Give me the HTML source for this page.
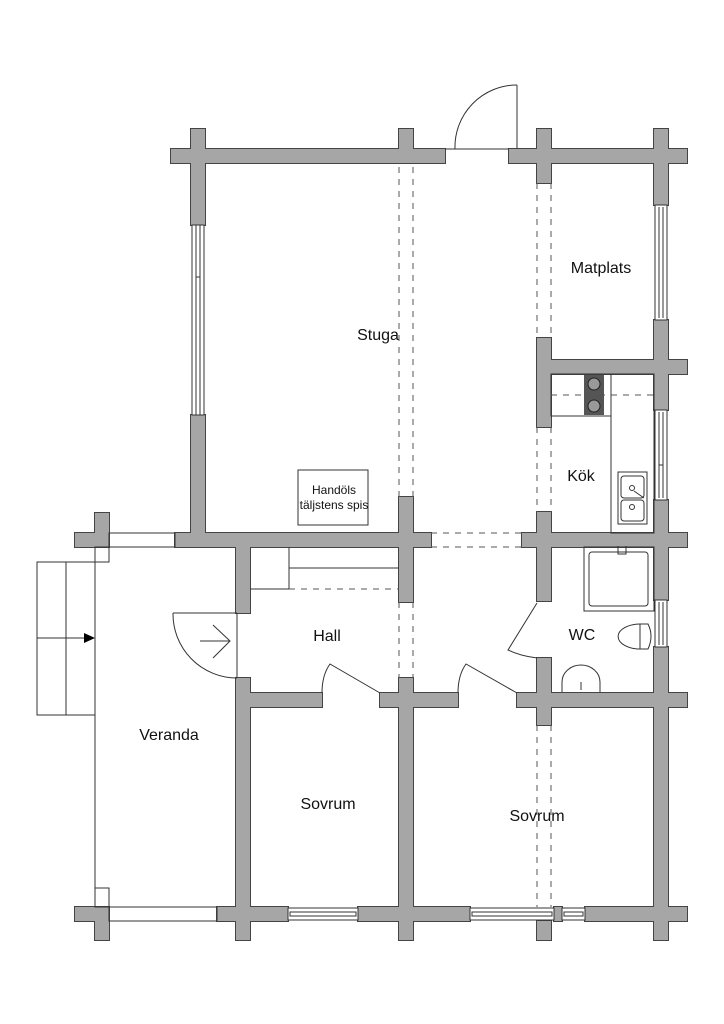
<!DOCTYPE html>
<html><head><meta charset="utf-8"><style>
html,body{margin:0;padding:0;background:#fff;}
svg{display:block}
text{font-family:"Liberation Sans","DejaVu Sans",sans-serif;fill:#111}
</style></head><body>
<svg width="724" height="1024" viewBox="0 0 724 1024" xmlns="http://www.w3.org/2000/svg">
<defs>
<g id="walls">
<rect x="171" y="149" width="274" height="14"/><rect x="509" y="149" width="178" height="14"/>
<rect x="191" y="129" width="14" height="20"/><rect x="399" y="129" width="14" height="20"/>
<rect x="537" y="129" width="14" height="54"/><rect x="654" y="129" width="14" height="20"/>
<rect x="191" y="163" width="14" height="62"/><rect x="191" y="415" width="14" height="132"/>
<rect x="654" y="163" width="14" height="42"/><rect x="654" y="320" width="14" height="90"/>
<rect x="654" y="500" width="14" height="100"/><rect x="654" y="647" width="14" height="293"/>
<rect x="537" y="338" width="14" height="89"/><rect x="551" y="360" width="136" height="14"/>
<rect x="399" y="497" width="14" height="105"/>
<rect x="175" y="533" width="256" height="14"/><rect x="522" y="533" width="165" height="14"/>
<rect x="537" y="512" width="14" height="89"/><rect x="537" y="658" width="14" height="67"/>
<rect x="75" y="533" width="34" height="14"/><rect x="95" y="513" width="14" height="34"/>
<rect x="236" y="547" width="14" height="66"/><rect x="236" y="678" width="14" height="262"/>
<rect x="399" y="678" width="14" height="262"/>
<rect x="250" y="693" width="72" height="14"/><rect x="380" y="693" width="78" height="14"/><rect x="517" y="693" width="170" height="14"/>
<rect x="75" y="907" width="34" height="14"/><rect x="95" y="921" width="14" height="19"/>
<rect x="217" y="907" width="71" height="14"/><rect x="358" y="907" width="112" height="14"/>
<rect x="554" y="907" width="8" height="14"/><rect x="585" y="907" width="102" height="14"/>
<rect x="537" y="921" width="14" height="19"/>
</g>
</defs>
<use href="#walls" fill="#444" stroke="#444" stroke-width="2"/>
<use href="#walls" fill="#a6a6a6"/>

<g fill="none" stroke="#333" stroke-width="1">
<!-- windows left -->
<rect x="192" y="225" width="12" height="190" fill="#fff"/><line x1="196" y1="225" x2="196" y2="415"/><line x1="200" y1="225" x2="200" y2="415"/><line x1="196" y1="277" x2="200" y2="277"/>
<!-- right windows -->
<rect x="655" y="205" width="12" height="115" fill="#fff"/><line x1="659" y1="207" x2="659" y2="318"/><line x1="663" y1="207" x2="663" y2="318"/>
<rect x="655" y="410" width="12" height="90" fill="#fff"/><line x1="659" y1="412" x2="659" y2="498"/><line x1="663" y1="412" x2="663" y2="498"/><line x1="659" y1="465" x2="663" y2="465"/>
<rect x="655" y="600" width="12" height="47" fill="#fff"/><line x1="659" y1="602" x2="659" y2="645"/><line x1="663" y1="602" x2="663" y2="645"/>
<!-- bottom windows -->
<rect x="288" y="908" width="70" height="12" fill="#fff"/><rect x="290" y="912" width="66" height="4"/>
<rect x="470" y="908" width="84" height="12" fill="#fff"/><rect x="472" y="912" width="80" height="4"/>
<rect x="562" y="908" width="23" height="12" fill="#fff"/><rect x="564" y="912" width="19" height="4"/>
<!-- veranda openings -->
<rect x="109" y="533" width="66" height="14"/><rect x="109" y="907" width="108" height="14"/>
<rect x="95" y="547" width="14" height="15"/><rect x="95" y="888" width="14" height="19"/>
<line x1="95" y1="562" x2="95" y2="888"/>
<!-- stairs -->
<rect x="37" y="562" width="58" height="153"/><line x1="66" y1="562" x2="66" y2="715"/><line x1="37" y1="638" x2="84" y2="638"/>
<!-- front door top -->
<line x1="445" y1="149" x2="509" y2="149"/><line x1="517" y1="85" x2="517" y2="149"/>
<path d="M455,149 A62,62 0 0 1 517,85"/>
<!-- entry door -->
<line x1="237" y1="613" x2="237" y2="678"/><line x1="173" y1="613" x2="237" y2="613"/>
<path d="M173,613 A64,64 0 0 0 237,678"/>
<line x1="200" y1="641" x2="230" y2="641"/><polyline points="213,625 230,641 213,658"/>
<!-- hall closet -->
<line x1="289" y1="547" x2="289" y2="589"/><line x1="289" y1="568" x2="399" y2="568"/><line x1="250" y1="589" x2="289" y2="589"/>
<!-- bedroom doors -->
<path d="M322,693 Q322,675 330,664 L380,693"/>
<path d="M458,693 Q458,675 466,664 L517,693"/>
<!-- WC door -->
<path d="M537,603 L508,650 Q520,656 537,658"/>
<!-- kitchen -->
<rect x="551" y="374" width="60" height="42"/><rect x="611" y="374" width="43" height="159"/>
<rect x="618" y="472" width="29" height="52"/><rect x="621" y="476" width="23" height="22" rx="3"/><rect x="621" y="500" width="23" height="21" rx="3"/>
<circle cx="632" cy="488" r="2.5"/><circle cx="632" cy="507" r="2.5"/><line x1="634" y1="491" x2="644" y2="498"/>
<!-- handöls box -->
<rect x="298" y="470" width="70" height="55"/>
<!-- WC fixtures -->
<rect x="584" y="547" width="70" height="64"/><rect x="589" y="552" width="59" height="54" rx="3"/>
<path d="M618,546 L618,554 L626,554 L626,546"/>
<path d="M640,624 A21,12 0 1 0 640,649 L648,649 Q654,636 648,624 Z"/>
<line x1="640" y1="624" x2="640" y2="649"/>
<path d="M562,692 L562,682 A19,17 0 0 1 600,682 L600,692"/>
<line x1="581" y1="682" x2="581" y2="690"/>
</g>
<rect x="584" y="375" width="20" height="40" fill="#555"/>
<circle cx="594" cy="384" r="6" fill="#999" stroke="#222"/><circle cx="594" cy="406" r="6" fill="#999" stroke="#222"/>
<polygon points="84,633 95,638 84,643" fill="#000"/>
<g stroke="#555" stroke-width="1" stroke-dasharray="6,6" fill="none">
<line x1="399" y1="167" x2="399" y2="497"/><line x1="413" y1="167" x2="413" y2="497"/>
<line x1="399" y1="602" x2="399" y2="678"/><line x1="413" y1="602" x2="413" y2="678"/>
<line x1="537" y1="183" x2="537" y2="338"/><line x1="551" y1="183" x2="551" y2="338"/>
<line x1="537" y1="427" x2="537" y2="512"/><line x1="551" y1="427" x2="551" y2="512"/>
<line x1="537" y1="725" x2="537" y2="907"/><line x1="551" y1="725" x2="551" y2="907"/>
<line x1="431" y1="533" x2="522" y2="533"/><line x1="431" y1="547" x2="522" y2="547"/>
<line x1="289" y1="589" x2="399" y2="589"/><line x1="551" y1="395" x2="654" y2="395"/>
</g>
<g font-size="16" text-anchor="middle">
<text x="378" y="340">Stuga</text>
<text x="601" y="273">Matplats</text>
<text x="581" y="481">Kök</text>
<text x="327" y="641">Hall</text>
<text x="582" y="640">WC</text>
<text x="169" y="740">Veranda</text>
<text x="328" y="809">Sovrum</text>
<text x="537" y="821">Sovrum</text>
</g>
<g font-size="12" text-anchor="middle">
<text x="334" y="494">Handöls</text><text x="334" y="509">täljstens spis</text>
</g>
</svg>
</body></html>
